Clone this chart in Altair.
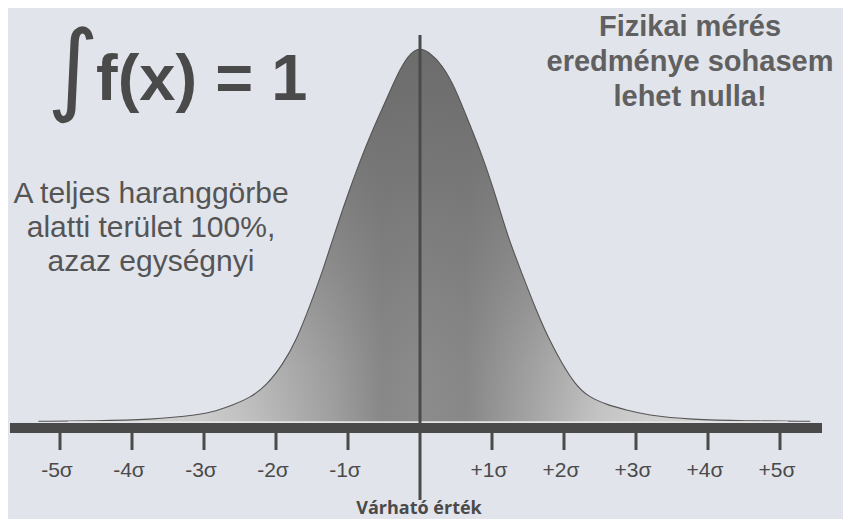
import altair as alt
import pandas as pd

# Bell curve: x in sigma units, height relative to peak
sigma_x = [-5.30, -4.50, -3.75, -3.06, -2.82, -2.60, -2.36, -2.13, -1.90, -1.71,
           -1.53, -1.35, -1.21, -1.01, -0.83, -0.65, -0.46, -0.28, -0.12, 0.00,
           0.12, 0.31, 0.49, 0.67, 0.86, 1.04, 1.22, 1.42, 1.60, 1.78,
           1.97, 2.15, 2.33, 2.61, 2.89, 3.13, 3.78, 4.50, 5.42]
heights = [0.002, 0.003, 0.006, 0.019, 0.030, 0.045, 0.065, 0.098, 0.155, 0.222,
           0.310, 0.405, 0.490, 0.605, 0.700, 0.785, 0.865, 0.945, 0.990, 1.000,
           0.990, 0.955, 0.893, 0.805, 0.715, 0.612, 0.495, 0.395, 0.305, 0.225,
           0.157, 0.102, 0.068, 0.045, 0.031, 0.019, 0.006, 0.003, 0.002]

tick_sigmas = [-5, -4, -3, -2, -1, 1, 2, 3, 4, 5]
tick_labels = ["-5σ", "-4σ", "-3σ", "-2σ", "-1σ", "+1σ", "+2σ", "+3σ", "+4σ", "+5σ"]

formula_text = "f(x) = 1"
left_text = ["A teljes haranggörbe", "alatti terület 100%,", "azaz egységnyi"]
right_text = ["Fizikai mérés", "eredménye sohasem", "lehet nulla!"]
center_label = "Várható érték"

W, H = 835, 511
BG = "#e2e4eb"
DARK = "#4a4a4a"

curve = pd.DataFrame({"s": sigma_x, "h": heights})
ticks = pd.DataFrame({"s": tick_sigmas, "label": tick_labels})
center = pd.DataFrame({"s": [0]})
one = alt.Data(values=[{}])

xs = alt.Scale(domain=[-5.7222, 5.875], nice=False, zero=False)
ys = alt.Scale(domain=[-0.25936, 1.10695], nice=False, zero=False)
X = alt.X("s:Q", scale=xs, axis=None)
Y = alt.Y("h:Q", scale=ys, axis=None)

hgrad = alt.Gradient(
    gradient="linear", x1=0, x2=1, y1=0, y2=0,
    stops=[
        alt.GradientStop(offset=0.0, color="#d8d8d8"),
        alt.GradientStop(offset=0.21, color="#cdcdcd"),
        alt.GradientStop(offset=0.273, color="#c0c0c0"),
        alt.GradientStop(offset=0.38, color="#a0a0a0"),
        alt.GradientStop(offset=0.445, color="#888888"),
        alt.GradientStop(offset=0.494, color="#8c8c8c"),
        alt.GradientStop(offset=0.555, color="#888888"),
        alt.GradientStop(offset=0.64, color="#a5a5a5"),
        alt.GradientStop(offset=0.727, color="#c5c5c5"),
        alt.GradientStop(offset=0.79, color="#d0d0d0"),
        alt.GradientStop(offset=1.0, color="#d8d8d8"),
    ],
)
vgrad = alt.Gradient(
    gradient="linear", x1=0, x2=0, y1=0, y2=1,
    stops=[
        alt.GradientStop(offset=0.0, color="rgba(108,108,108,1.0)"),
        alt.GradientStop(offset=0.3, color="rgba(112,112,112,0.8)"),
        alt.GradientStop(offset=0.6, color="rgba(116,116,116,0.45)"),
        alt.GradientStop(offset=0.85, color="rgba(120,120,120,0.1)"),
        alt.GradientStop(offset=1.0, color="rgba(120,120,120,0.0)"),
    ],
)

area = alt.Chart(curve).mark_area(interpolate="basis", fill=hgrad).encode(x=X, y=Y)
shade = alt.Chart(curve).mark_area(interpolate="basis", fill=vgrad).encode(x=X, y=Y)
outline = alt.Chart(curve).mark_line(interpolate="basis", color="#555555", strokeWidth=1.1).encode(x=X, y=Y)

base_light = alt.Chart(one).mark_rule(color="#e4e4e4", strokeWidth=1.3).encode(
    x=alt.value(60), x2=alt.value(780), y=alt.value(413.8)
)
bar = alt.Chart(one).mark_rect(color=DARK).encode(
    x=alt.value(2), x2=alt.value(814), y=alt.value(415), y2=alt.value(425)
)
tick_marks = alt.Chart(ticks).mark_rule(color=DARK, strokeWidth=3).encode(
    x=X, y=alt.value(425), y2=alt.value(442)
)
tick_text = alt.Chart(ticks).mark_text(
    font="Liberation Sans", fontSize=21, color=DARK, baseline="alphabetic", align="center", dx=-3
).encode(x=X, y=alt.value(469), text="label:N")
vline = alt.Chart(center).mark_rule(color=DARK, strokeWidth=3).encode(
    x=X, y=alt.value(27), y2=alt.value(492)
)

integral = alt.Chart(one).mark_text(
    text="∫", font="DejaVu Sans", fontSize=100, color=DARK, align="center", baseline="alphabetic"
).encode(x=alt.value(65), y=alt.value(94))
formula = alt.Chart(one).mark_text(
    text=formula_text, font="Liberation Sans", fontSize=65, fontWeight="bold", color=DARK,
    align="left", baseline="alphabetic"
).encode(x=alt.value(88), y=alt.value(92))
left_para = alt.Chart(one).mark_text(
    text=left_text, font="Liberation Sans", fontSize=30, color="#555555",
    align="center", baseline="alphabetic", lineHeight=34
).encode(x=alt.value(143), y=alt.value(195))
right_para = alt.Chart(one).mark_text(
    text=right_text, font="Liberation Sans", fontSize=29, fontWeight="bold", color="#606060",
    align="center", baseline="alphabetic", lineHeight=35
).encode(x=alt.value(682), y=alt.value(28))
center_text = alt.Chart(one).mark_text(
    text=center_label, font="Open Sans", fontSize=18, fontWeight="bold", color=DARK,
    align="center", baseline="alphabetic"
).encode(x=alt.value(411), y=alt.value(506))

chart = alt.layer(
    area, shade, outline, base_light, bar, tick_marks, tick_text, vline,
    integral, formula, left_para, right_para, center_text
).properties(
    width=W, height=H,
    autosize=alt.AutoSizeParams(type="fit", contains="padding"),
    padding=0,
    background=BG,
).configure_view(stroke=None)

chart.save("out.html", embed_options={"renderer": "svg", "actions": False})
